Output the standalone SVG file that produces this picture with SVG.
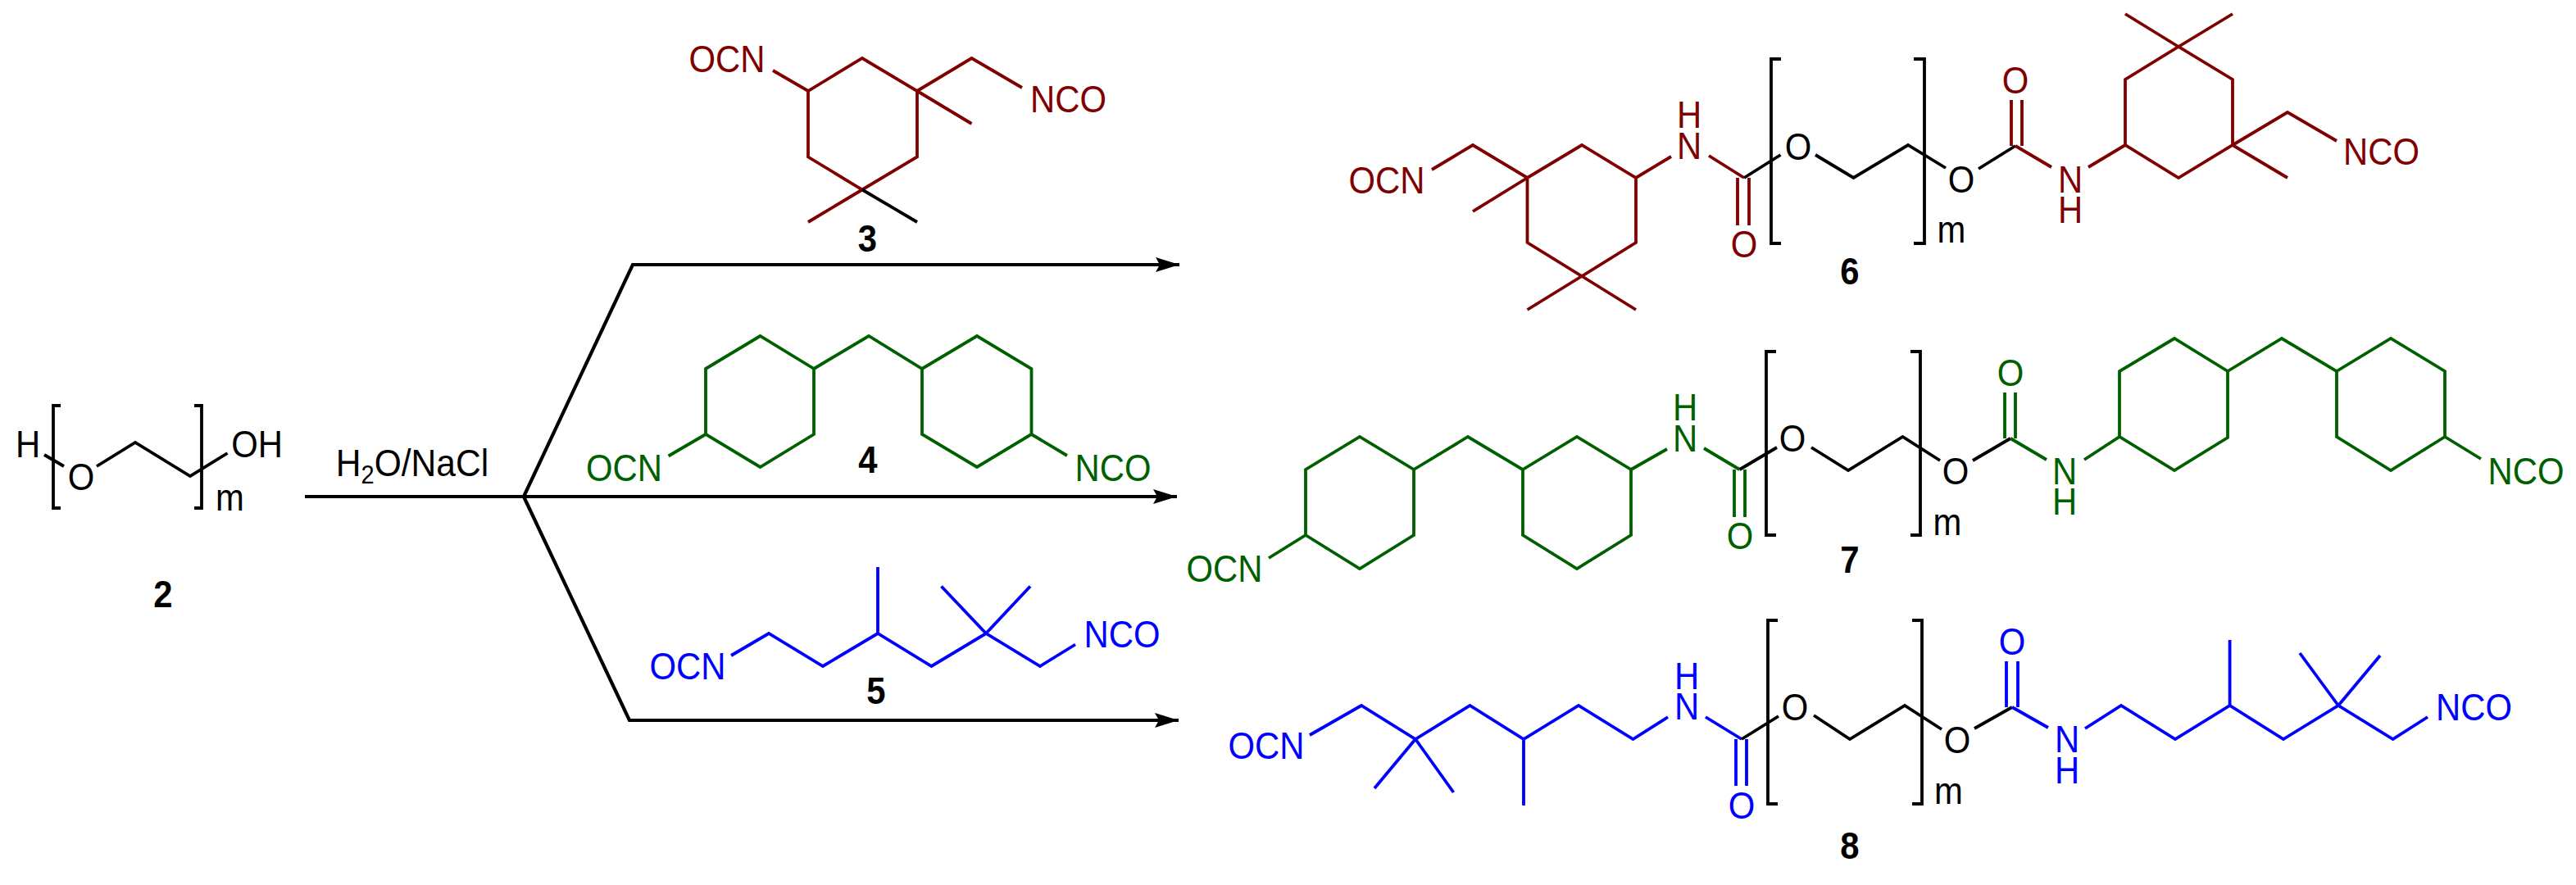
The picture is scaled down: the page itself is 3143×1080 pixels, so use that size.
<svg xmlns="http://www.w3.org/2000/svg" width="3143" height="1080" viewBox="0 0 3143 1080">
<style>
text{font-family:"Liberation Sans",Arial,sans-serif;font-size:47px;text-anchor:middle;transform-box:fill-box;transform-origin:center;transform:scaleX(.89)}
.w{transform:scaleX(.905)}
.b{font-weight:bold}
path{fill:none;stroke-width:3.8;stroke-linejoin:miter;stroke-linecap:butt}
.k{stroke:#000}.r{stroke:#7f0000}.g{stroke:#006000}.u{stroke:#0000ff}
.tr{fill:#7f0000}.tg{fill:#006000}.tu{fill:#0000ff}
.a{stroke-width:4.2}
</style>
<defs>
<marker id="ah" markerUnits="userSpaceOnUse" markerWidth="32" markerHeight="20" refX="29" refY="9" orient="auto"><path d="M0 0L29 9L0 18L5 9Z" style="fill:#000;stroke:none"/></marker>
</defs>
<rect width="3143" height="1080" fill="#fff"/>
<g id="connectors">
<path class="k a" d="M372 606H1436" marker-end="url(#ah)"/>
<path class="k a" d="M639 606L772 323H1439" marker-end="url(#ah)"/>
<path class="k a" d="M639 606L768 879H1438" marker-end="url(#ah)"/>
</g>
<g id="reagent-label"><text x="503" y="581" class="w">H<tspan dy="9" font-size="32">2</tspan><tspan dy="-9">O/NaCl</tspan></text></g>
<g id="node-2">
<path class="k" d="M74 495H65V620H74M237 495H246V620H237M54 555L78 569M118 569L165 540L232 581L277.500 553"/>
<text x="34" y="558">H</text><text x="99" y="598">O</text><text x="313.500" y="558">OH</text><text x="280.500" y="623">m</text>
<text x="199" y="741" class="b">2</text>
</g>
<g id="node-3">
<path class="r" d="M943 86L986 111L1052 71L1119 111V191.500L1052 231.500L986 191.500V111M1119 111L1185.500 71L1247 107M1119 111L1185.500 151M1052 231.500L986 271"/>
<path class="k" d="M1052 231.500L1119 271"/>
<text x="887" y="88" class="tr">OCN</text><text x="1303.500" y="137" class="tr">NCO</text>
<text x="1058.500" y="307" class="b">3</text>
</g>
<g id="node-4">
<path class="g" d="M861 450L927.500 410L993 450V530L927.500 570L861 530ZM993 450L1060 410L1125 450L1192 410L1258.500 450V530L1192 570L1125 530V450M861 530L815.600 556.500M1258.500 530L1302 556"/>
<text x="761.500" y="587" class="tg">OCN</text><text x="1358" y="587" class="tg">NCO</text>
<text x="1059" y="577" class="b">4</text>
</g>
<g id="node-5">
<path class="u" d="M892 800L938 773L1004 813L1071 773L1136.500 813L1203 773L1269 813L1312 786.500M1071 773V692M1203 773L1148.500 715.500M1203 773L1257 715.500"/>
<text x="839" y="829" class="tu">OCN</text><text x="1369" y="790" class="tu">NCO</text>
<text x="1069" y="859" class="b">5</text>
</g>
<g id="node-6">
<path class="r" d="M1747 207L1797 177L1863.500 217L1930 177L1996 217L2039 191M1863.500 217V296L1930 337L1996 296V217M1863.500 217L1797 258M1930 337L1863.500 378M1930 337L1996 378M2085 190L2128 217M2120 217V275M2134 217V275"/>
<path class="k" d="M2128 217L2172.500 189M2215 189L2261.500 217L2328 177L2374 205M2414 206L2459 178M2173 72H2161V297H2173M2335 72H2348V297H2335"/>
<path class="r" d="M2459 178L2503 204M2454 178V122M2467 178V122M2548 204L2593 177L2658 217L2724 177L2791 217M2593 177V97L2658 57L2724 97V177M2658 57L2593 17M2658 57L2724 17M2724 177L2791 137L2851 172"/>
<text x="1692" y="236" class="tr">OCN</text><text x="2061" y="156" class="tr">H</text><text x="2061" y="194" class="tr">N</text><text x="2128" y="314" class="tr">O</text>
<text x="2194" y="195">O</text><text x="2393" y="235">O</text>
<text x="2459" y="114" class="tr">O</text><text x="2526" y="235" class="tr">N</text><text x="2526" y="272" class="tr">H</text><text x="2905.500" y="201" class="tr">NCO</text>
<text x="2381" y="296">m</text><text x="2257" y="347" class="b">6</text>
</g>
<g id="node-7">
<path class="g" d="M1548 681L1593 653V573L1659 533L1725 573V653L1659 694L1593 653M1725 573L1791 533L1858 573V653L1924 694L1990 653V573L1924 533L1858 573M1990 573L2034 548M2079 547L2122.500 573M2116 573V631M2129 573V631"/>
<path class="k" d="M2122.500 573L2168 546M2210 546L2255 574L2321.500 533L2367 562M2407 562L2453 535M2167 429H2155V653H2167M2331 429H2343V653H2331"/>
<path class="g" d="M2453 535L2497 561M2446 535V479M2459 535V479M2543 561L2586 533L2653 574L2718 534V453L2653 413L2586 453V533M2718 453L2784 413L2851 453V533L2917 574L2983 533V453L2917 413L2851 453M2983 533L3027 560"/>
<text x="1494" y="710" class="tg">OCN</text><text x="2056" y="513" class="tg">H</text><text x="2056" y="551" class="tg">N</text><text x="2123" y="670" class="tg">O</text>
<text x="2187" y="551">O</text><text x="2386" y="591">O</text>
<text x="2453" y="471" class="tg">O</text><text x="2519" y="591" class="tg">N</text><text x="2519" y="628" class="tg">H</text><text x="3082" y="591" class="tg">NCO</text>
<text x="2376" y="653">m</text><text x="2257" y="699" class="b">7</text>
</g>
<g id="node-8">
<path class="u" d="M1598 897L1661 861L1727 902L1793.500 861L1859 902L1926 861L1992.500 902L2035 875M1727 902L1677 962M1727 902L1773.500 967M1859 902V983M2081 875L2125 902M2118 902V959M2131 902V959"/>
<path class="k" d="M2125 902L2170 874M2213 873L2257 902L2324 861L2369 890M2409 889L2455 863M2169 757H2157V981H2169M2333 757H2345V981H2333"/>
<path class="u" d="M2455 863L2499 888M2448 863V807M2462 863V807M2544 889L2588 861L2654 902L2720.600 861L2786 902L2853 861L2919.600 902L2962 875M2720.600 861V781M2853 861L2806 797M2853 861L2904 800"/>
<text x="1545" y="926" class="tu">OCN</text><text x="2058" y="841" class="tu">H</text><text x="2058" y="878" class="tu">N</text><text x="2125" y="999" class="tu">O</text>
<text x="2190" y="879">O</text><text x="2388" y="919">O</text>
<text x="2455" y="799" class="tu">O</text><text x="2522" y="918" class="tu">N</text><text x="2522" y="956" class="tu">H</text><text x="3018.500" y="879" class="tu">NCO</text>
<text x="2377.500" y="981">m</text><text x="2257" y="1048" class="b">8</text>
</g>
</svg>
